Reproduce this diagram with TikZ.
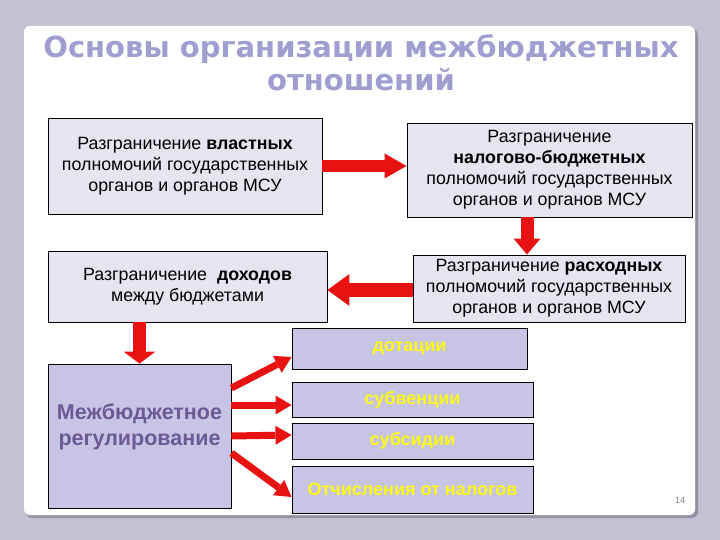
\documentclass[tikz,border=0pt]{standalone}
\usepackage{fontspec}
\setmainfont{Liberation Sans}
\newfontfamily\titlefont{DejaVu Sans}
\usetikzlibrary{arrows.meta}
\definecolor{bgc}{RGB}{197,193,210}
\definecolor{shadowc}{RGB}{150,146,165}
\definecolor{topfill}{RGB}{231,228,239}
\definecolor{lowfill}{RGB}{200,196,230}
\definecolor{titlec}{RGB}{160,158,208}
\definecolor{mezhc}{RGB}{108,90,150}
\definecolor{yellowc}{RGB}{250,250,20}
\definecolor{arrowred}{RGB}{232,18,18}
\tikzset{
  topbox/.style={draw=black, line width=0.9pt, fill=topfill, align=center, inner sep=0pt,
    font=\fontsize{17.8}{21}\selectfont},
  lowbox/.style={draw=black, line width=0.9pt, fill=lowfill, align=center, inner sep=0pt,
    text=yellowc, font=\fontsize{18}{21}\selectfont\bfseries},
  bigarrow/.style={draw=arrowred, line width=#1},
  smallarrow/.style={draw=arrowred, line width=7pt,
    -{Triangle[length=16pt,width=19pt,line width=0pt]}},
}
\begin{document}
\begin{tikzpicture}[x=1pt,y=-1pt]
\useasboundingbox (0,0) rectangle (720,540);
\fill[bgc] (0,0) rectangle (720,540);
\fill[shadowc, rounded corners=6pt] (26,29) rectangle (698,518);
\fill[white, rounded corners=6pt] (24,26) rectangle (695,515);

\node[text=titlec, align=center, font=\titlefont\bfseries\fontsize{29}{33}\selectfont] (title) at (361,63)
  {Основы организации межбюджетных\\отношений};

\node[topbox, minimum width=274pt, minimum height=96pt] (b1) at (185,166)
  {Разграничение \textbf{властных}\\полномочий государственных\\органов и органов МСУ};
\node[topbox, minimum width=285pt, minimum height=94pt] (b2) at (549.5,170)
  {Разграничение\\\textbf{налогово-бюджетных}\\полномочий государственных\\органов и органов МСУ};
\node[topbox, minimum width=279pt, minimum height=71pt] (b3) at (187.5,286.5)
  {Разграничение \ \textbf{доходов}\\между бюджетами};
\node[topbox, minimum width=272pt, minimum height=67pt] (b4) at (549,288.5)
  {Разграничение \textbf{расходных}\\полномочий государственных\\органов и органов МСУ};

\node[lowbox, minimum width=183pt, minimum height=144pt] (b5) at (139.5,436) {};
\node[text=mezhc, align=center, font=\fontsize{21.5}{26}\selectfont\bfseries] (mezh)
  at ([yshift=9pt]b5.center) {Межбюджетное\\регулирование};

\node[lowbox, minimum width=235pt, minimum height=41pt] (d1) at (409.5,348.5) {дотации};
\node[lowbox, minimum width=241pt, minimum height=35pt] (d2) at (412.5,399.5) {субвенции};
\node[lowbox, minimum width=241pt, minimum height=36pt] (d3) at (412.5,441) {субсидии};
\node[lowbox, minimum width=241pt, minimum height=47pt] (d4) at (412.5,489.5) {Отчисления от налогов};

\node[text=gray, font=\fontsize{9}{10}\selectfont] (num) at (680,500) {14};

% big arrows
\draw[bigarrow=12pt, -{Triangle[length=22pt,width=25pt,line width=0pt]}]
  (b1.east) -- (b1.east -| b2.west);
\draw[bigarrow=13pt, -{Triangle[length=16pt,width=27pt,line width=0pt]}]
  ([xshift=-22.5pt]b2.south) -- ([xshift=-22.5pt]b2.south |- b4.north);
\draw[bigarrow=14pt, -{Triangle[length=22pt,width=32pt,line width=0pt]}]
  ([yshift=-1.5pt]b4.west) -- ([yshift=-1.5pt]b4.west -| b3.east);
\draw[bigarrow=13pt, -{Triangle[length=12pt,width=32pt,line width=0pt]}]
  (b3.south -| b5.north) -- (b5.north);

% small arrows
\draw[smallarrow] ([yshift=48pt]b5.east) -- ([yshift=-8.5pt]d1.west);
\draw[smallarrow] ([yshift=31pt]b5.east) -- ([yshift=-5.5pt]d2.west);
\draw[smallarrow] (b5.east) -- ([yshift=6pt]d3.west);
\draw[smallarrow] ([yshift=-17pt]b5.east) -- ([yshift=-7.5pt]d4.west);
\end{tikzpicture}
\end{document}
